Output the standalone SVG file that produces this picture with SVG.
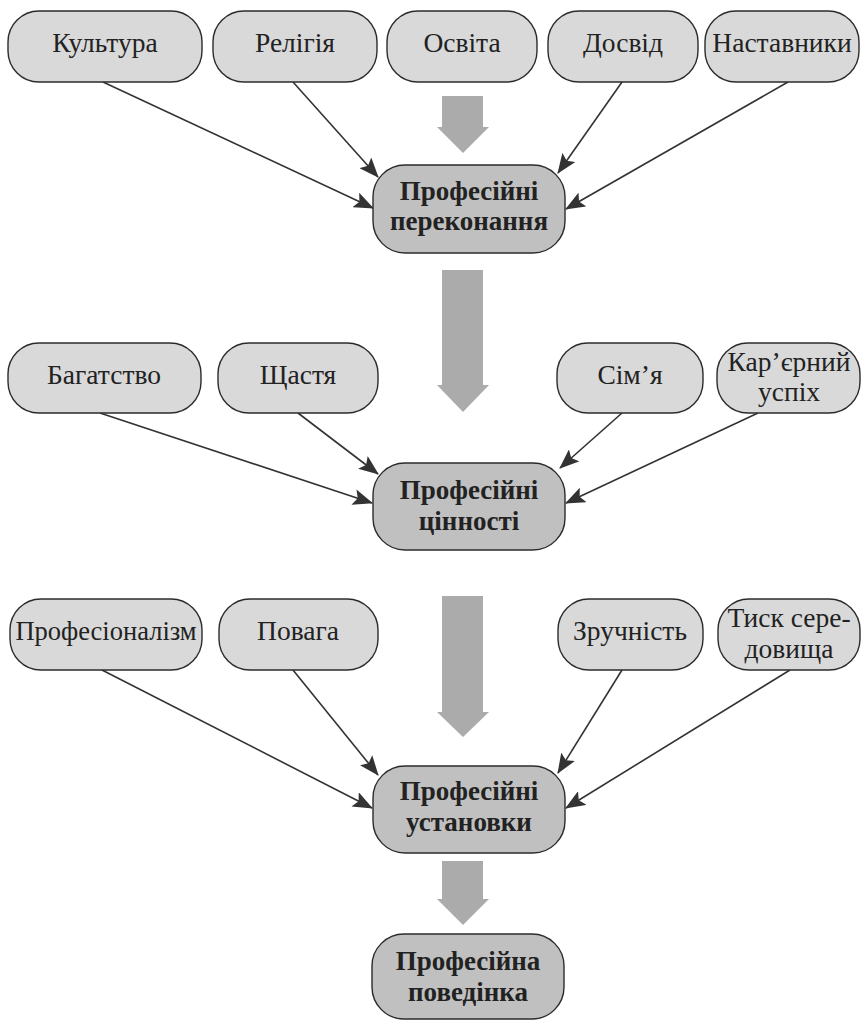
<svg xmlns="http://www.w3.org/2000/svg" width="863" height="1021" viewBox="0 0 863 1021">
<style>
.n rect{fill:#d9d9d9;stroke:#2b2b2b;stroke-width:1.4}
.c rect{fill:#c0c0c0;stroke:#2b2b2b;stroke-width:1.4}
.n text{font-family:"Liberation Serif","Times New Roman",serif;font-size:27.5px;fill:#222;text-anchor:middle}
.c text{font-family:"Liberation Serif","Times New Roman",serif;font-size:27px;font-weight:bold;fill:#222;text-anchor:middle}
.e line{stroke:#333;stroke-width:1.6;marker-end:url(#ah)}
.b{fill:#ababab}
</style>
<defs>
<marker id="ah" markerUnits="userSpaceOnUse" markerWidth="20" markerHeight="16" refX="19" refY="8" orient="auto">
<path d="M0,0 L20,8 L0,16 L4,8 Z" fill="#333"/>
</marker>
</defs>
<g id="blockarrows">
<polygon class="b" points="442,96 483,96 483,127 489,127 463,153 437,127 442,127"/>
<polygon class="b" points="442,270 483,270 483,385 489,385 463,412 437,385 442,385"/>
<polygon class="b" points="442,596 483,596 483,712 489,712 463,737 437,712 442,712"/>
<polygon class="b" points="442,861 483,861 483,899 489,899 463,925 437,899 442,899"/>
</g>
<g id="connectors" class="e">
<line x1="103" y1="82" x2="373" y2="208"/>
<line x1="293" y1="82" x2="378" y2="177"/>
<line x1="622" y1="82" x2="558" y2="173"/>
<line x1="788" y1="82" x2="566" y2="209"/>
<line x1="100" y1="413" x2="372" y2="503"/>
<line x1="298" y1="413" x2="378" y2="474"/>
<line x1="622" y1="413" x2="560" y2="468"/>
<line x1="758" y1="413" x2="566" y2="503"/>
<line x1="102" y1="670" x2="372" y2="808"/>
<line x1="293" y1="670" x2="378" y2="775"/>
<line x1="622" y1="670" x2="558" y2="773"/>
<line x1="790" y1="670" x2="566" y2="808"/>
</g>
<g id="kultura" class="n"><rect x="8" y="11" width="194" height="71" rx="31"/><text x="105" y="52">Культура</text></g>
<g id="religiia" class="n"><rect x="213" y="11" width="164" height="71" rx="31"/><text x="295" y="52">Релігія</text></g>
<g id="osvita" class="n"><rect x="387" y="11" width="150" height="71" rx="31"/><text x="462" y="52">Освіта</text></g>
<g id="dosvid" class="n"><rect x="548" y="11" width="150" height="71" rx="31"/><text x="623" y="52">Досвід</text></g>
<g id="nastavnyky" class="n"><rect x="705" y="11" width="154" height="71" rx="31"/><text x="782" y="52">Наставники</text></g>
<g id="perekonannia" class="c"><rect x="373" y="165" width="192" height="88" rx="32"/><text x="469" y="200">Професійні</text><text x="469" y="230">переконання</text></g>
<g id="bahatstvo" class="n"><rect x="8" y="343" width="193" height="70" rx="31"/><text x="104" y="384">Багатство</text></g>
<g id="shchastia" class="n"><rect x="218" y="343" width="160" height="70" rx="31"/><text x="298" y="384">Щастя</text></g>
<g id="simia" class="n"><rect x="557" y="343" width="146" height="70" rx="31"/><text x="630" y="384">Сім’я</text></g>
<g id="kariera" class="n"><rect x="717" y="343" width="143" height="70" rx="31"/><text x="789" y="371">Кар’єрний</text><text x="789" y="401">успіх</text></g>
<g id="tsinnosti" class="c"><rect x="373" y="463" width="192" height="87" rx="32"/><text x="469" y="499">Професійні</text><text x="469" y="530">цінності</text></g>
<g id="profesionalizm" class="n"><rect x="10" y="599" width="192" height="71" rx="31"/><text x="106" y="640" style="font-size:26.5px">Професіоналізм</text></g>
<g id="povaha" class="n"><rect x="219" y="599" width="159" height="71" rx="31"/><text x="298" y="640">Повага</text></g>
<g id="zruchnist" class="n"><rect x="558" y="599" width="145" height="71" rx="31"/><text x="630" y="640">Зручність</text></g>
<g id="tysk" class="n"><rect x="718" y="599" width="142" height="71" rx="31"/><text x="789" y="627">Тиск сере-</text><text x="789" y="658">довища</text></g>
<g id="ustanovky" class="c"><rect x="373" y="766" width="192" height="87" rx="32"/><text x="469" y="800">Професійні</text><text x="469" y="831">установки</text></g>
<g id="povedinka" class="c"><rect x="372" y="934" width="192" height="85" rx="32"/><text x="468" y="970">Професійна</text><text x="468" y="1001">поведінка</text></g>
</svg>
